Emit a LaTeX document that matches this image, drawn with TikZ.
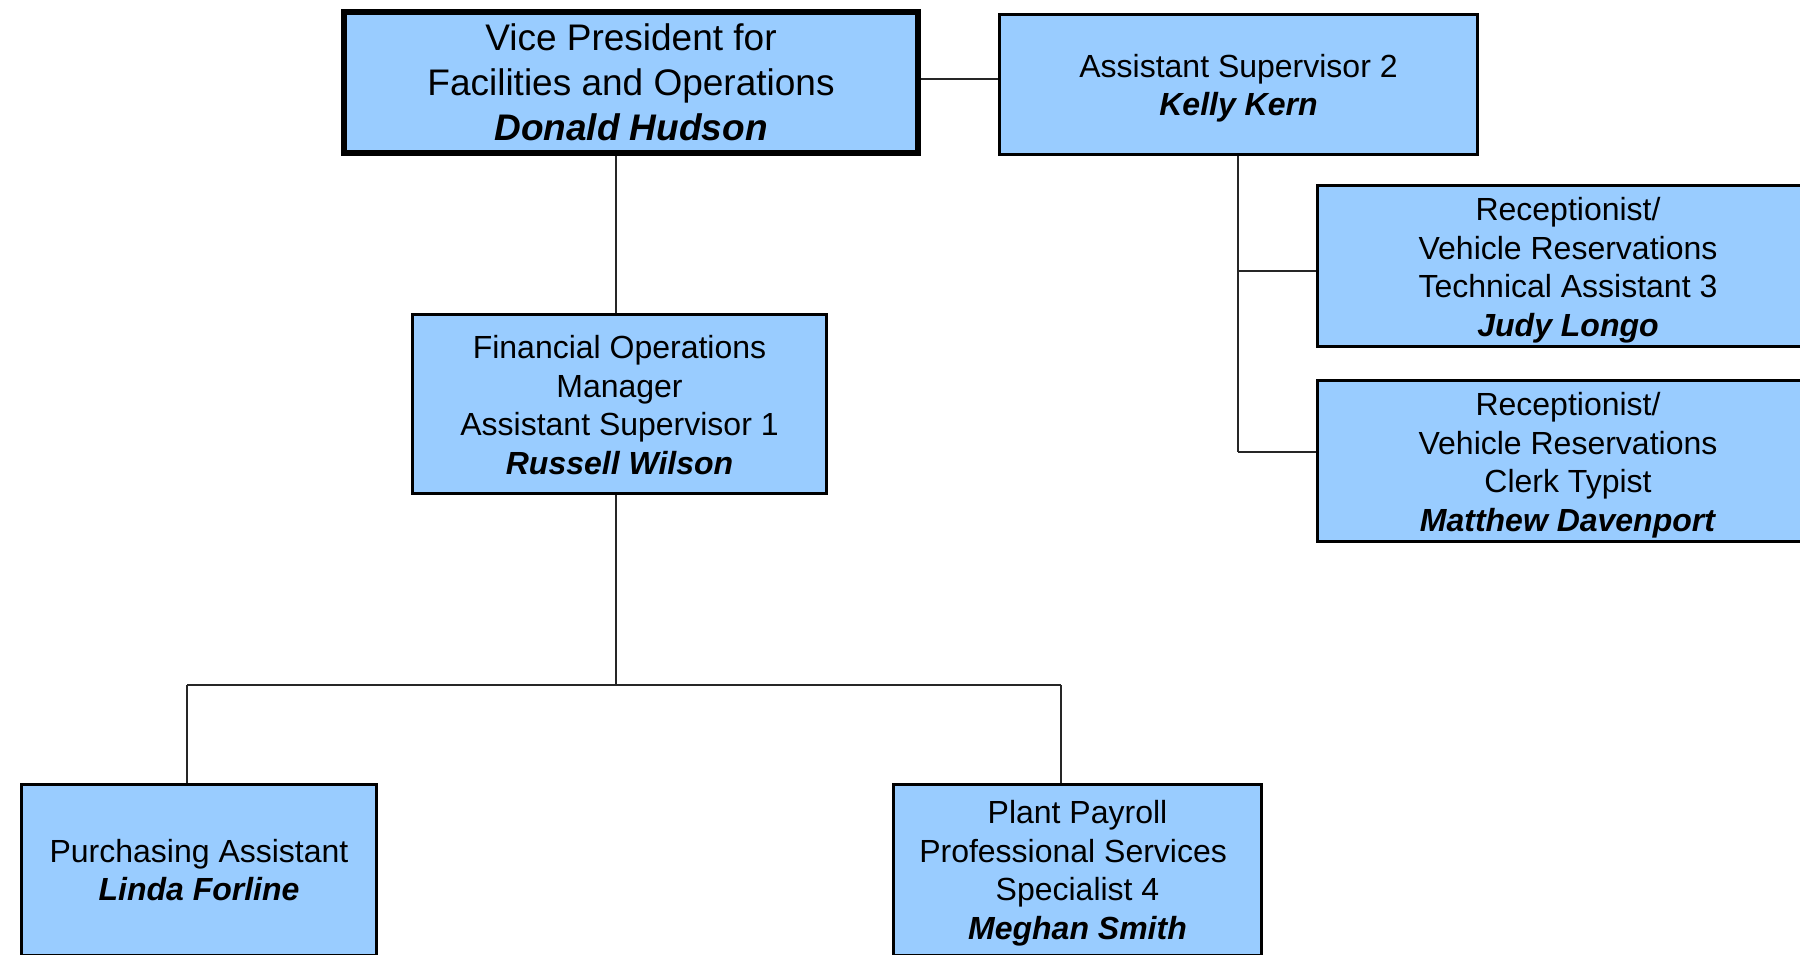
\documentclass[tikz,border=0pt]{standalone}
\usepackage{fontspec}
\setmainfont{Liberation Sans}
\definecolor{boxblue}{HTML}{99CCFF}
\begin{document}
\begin{tikzpicture}[x=0.5pt,y=-0.5pt,
  orgbox/.style={draw=black,fill=boxblue,line width=1.5pt,inner sep=0pt},
  vpbox/.style={orgbox,line width=3pt},
  orgtext/.style={align=center,inner sep=0pt,font=\fontsize{16}{19.25}\selectfont},
  vptext/.style={orgtext,font=\fontsize{18.5}{22.5}\selectfont},
  conn/.style={draw=black!85,line width=0.6pt}]
\useasboundingbox (0,0) rectangle (1800,954);
\clip (0,0) rectangle (1800,954);
\fill[white] (0,0) rectangle (1800,954);
% boxes
\node[vpbox,minimum width=287pt,minimum height=70.5pt] (vp) at (631,82.5) {};
\node[orgbox,minimum width=239pt,minimum height=70pt] (as2) at (1238.5,84.5) {};
\node[orgbox,minimum width=250.5pt,minimum height=80.5pt] (r1) at (1568,266) {};
\node[orgbox,minimum width=250.5pt,minimum height=80.5pt] (r2) at (1568,461) {};
\node[orgbox,minimum width=207pt,minimum height=89.5pt] (fom) at (619.5,404) {};
\node[orgbox,minimum width=177.5pt,minimum height=85.5pt] (pa) at (199,870) {};
\node[orgbox,minimum width=184pt,minimum height=85.5pt] (pp) at (1077.5,870) {};
% texts
\node[vptext] (vpt) at (vp.center)
  {Vice President for\\Facilities and Operations\\\textbf{\textit{Donald Hudson}}};
\node[orgtext,yshift=-1.75pt] (as2t) at (as2.center)
  {Assistant Supervisor 2\\\textbf{\textit{Kelly Kern}}};
\node[orgtext,yshift=-2.2pt] (r1t) at (r1.center)
  {Receptionist/\\Vehicle Reservations\\Technical Assistant 3\\\textbf{\textit{Judy Longo}}};
\node[orgtext,yshift=-2pt] (r2t) at (r2.center)
  {Receptionist/\\Vehicle Reservations\\Clerk Typist\\\textbf{\textit{Matthew Davenport}}};
\node[orgtext,yshift=-0.6pt] (fomt) at (fom.center)
  {Financial Operations\\Manager\\Assistant Supervisor 1\\\textbf{\textit{Russell Wilson}}};
\node[orgtext] (pat) at (pa.center)
  {Purchasing Assistant\\\textbf{\textit{Linda Forline}}};
\node[orgtext,yshift=-1.5pt] (ppt) at (pp.center)
  {Plant Payroll\\Professional Services\kern4.4pt\mbox{}\\Specialist 4\\\textbf{\textit{Meghan Smith}}};
% helper coordinates
\coordinate (hvp) at (0,79);
\coordinate (xvp) at (616,0);
\coordinate (xas) at (1238,0);
\coordinate (yr1) at (0,271);
\coordinate (yr2) at (0,452);
\coordinate (ybar) at (0,685);
\coordinate (xpa) at (187,0);
\coordinate (xpp) at (1061,0);
\coordinate (asend) at (xas |- yr2);
\coordinate (fomj) at (xvp |- ybar);
\coordinate (paj) at (xpa |- ybar);
\coordinate (ppj) at (xpp |- ybar);
% connectors
\draw[conn] (vp.east |- hvp) -- (as2.west |- hvp);
\draw[conn] (vp.south -| xvp) -- (fom.north -| xvp);
\draw[conn] (as2.south -| xas) -- (asend);
\draw[conn] (xas |- yr1) -- (r1.west |- yr1);
\draw[conn] (asend) -- (r2.west |- yr2);
\draw[conn] (fom.south -| xvp) -- (fomj);
\draw[conn] (paj) -- (ppj);
\draw[conn] (paj) -- (pa.north -| xpa);
\draw[conn] (ppj) -- (pp.north -| xpp);
\end{tikzpicture}
\end{document}
